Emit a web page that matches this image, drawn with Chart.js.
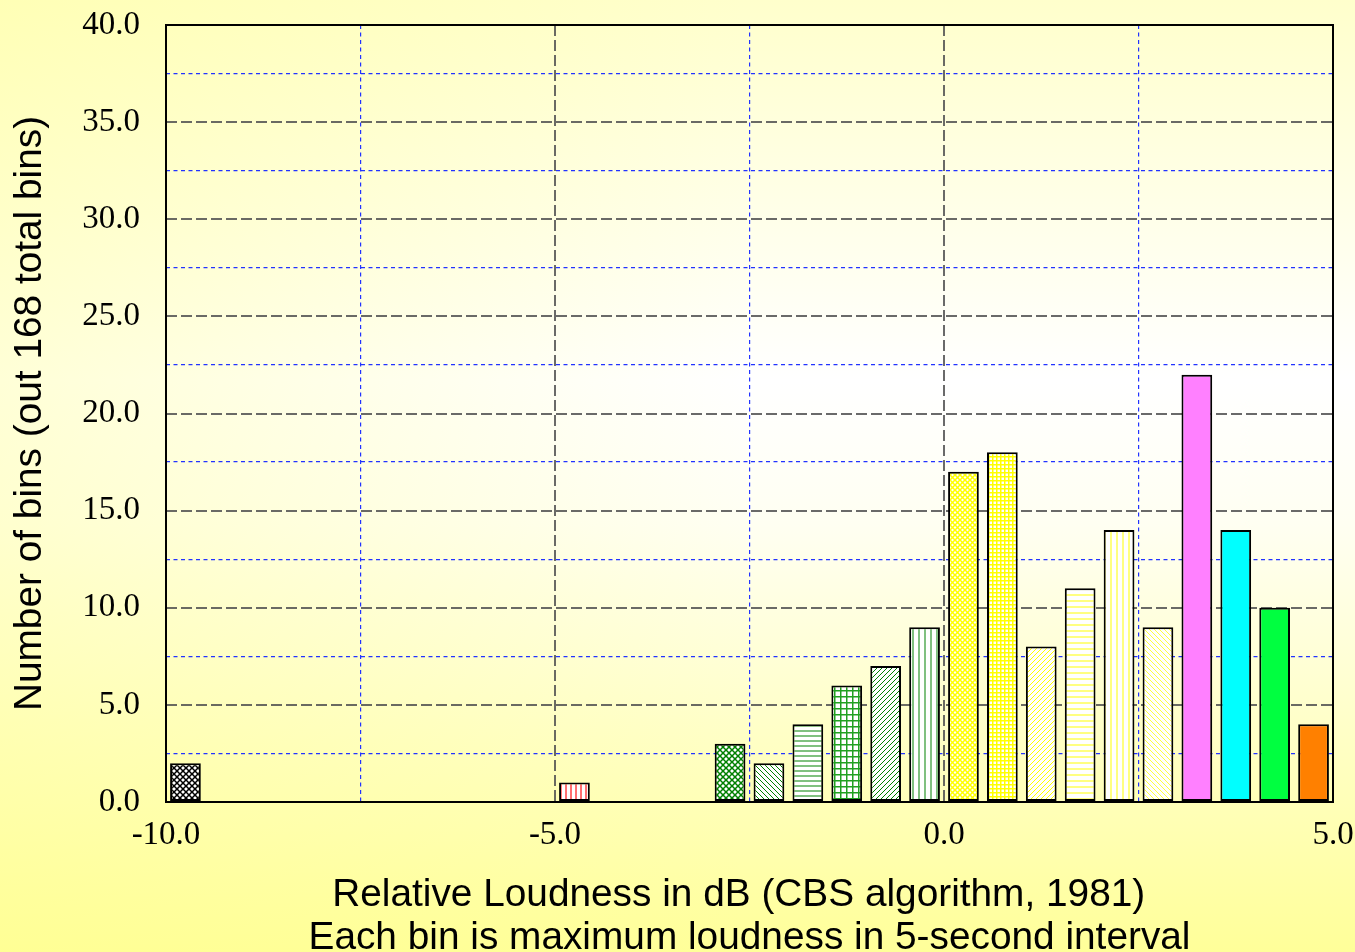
<!DOCTYPE html>
<html><head><meta charset="utf-8">
<script src="https://cdn.jsdelivr.net/npm/chart.js@4"></script>
<style>
html,body{margin:0;padding:0;overflow:hidden;width:1355px;height:952px;}
body{background:
  linear-gradient(to right, rgba(255,255,140,0.35) 0%, rgba(255,255,140,0) 55%),
  linear-gradient(to bottom, #FFFFCC 0%, #FFFFFF 40%, #FFFFF2 55%, #FFFF99 100%);}
canvas{display:block}
</style></head><body>
<canvas id="c" width="1355" height="952"></canvas>
<script>
// ---- data ----
const binCenters = [-9.75, -4.75, -2.75, -2.25, -1.75, -1.25, -0.75, -0.25, 0.25, 0.75, 1.25, 1.75, 2.25, 2.75, 3.25, 3.75, 4.25, 4.75];
const binCounts  = [2, 1, 3, 2, 4, 6, 7, 9, 17, 18, 8, 11, 14, 9, 22, 14, 10, 4];
const xRange = [-10, 5];
const yRange = [0, 40];
const yTitle = 'Number of bins (out 168 total bins)';
const xTitle = ['Relative Loudness in dB (CBS algorithm, 1981)  ', 'Each bin is maximum loudness in 5-second interval'];

// ---- styles (one per bar) ----
const barStyles = [
  ['diamond', '#000000', 6, 1.5],
  ['vert', '#FF7070', 5, 2],
  ['diamond', '#008000', 6, 1.5],
  ['back', '#008000', 5, 1],
  ['horz', '#80C080', 5, 2],
  ['grid', '#20A020', 6, 1.5],
  ['fwd', '#008000', 5, 1],
  ['vert', '#80C080', 6, 2],
  ['diamond', '#FFFF00', 5, 1.5],
  ['grid', '#FFFF00', 4, 1.5],
  ['fwd', '#FFFF00', 5, 1],
  ['horz', '#FFFF80', 6, 2],
  ['vert', '#FFFF80', 6, 2],
  ['back', '#FFFF40', 5, 1],
  ['solid', '#FF80FF'],
  ['solid', '#00FFFF'],
  ['solid', '#00FF40'],
  ['solid', '#FF8000']
];

function makeFill(st) {
  const [kind, color, size, lw] = st;
  if (kind === 'solid') return color;
  const c = document.createElement('canvas');
  c.width = c.height = size;
  const g = c.getContext('2d');
  g.fillStyle = '#FFFFFF'; g.fillRect(0, 0, size, size);
  g.fillStyle = color; g.strokeStyle = color; g.lineWidth = lw;
  const fwd = () => { g.beginPath(); for (const k of [-size, 0, size]) { g.moveTo(k, size); g.lineTo(k + size, 0); } g.stroke(); };
  const back = () => { g.beginPath(); for (const k of [-size, 0, size]) { g.moveTo(k, 0); g.lineTo(k + size, size); } g.stroke(); };
  if (kind === 'vert') g.fillRect(0, 0, lw, size);
  else if (kind === 'horz') g.fillRect(0, 0, size, lw);
  else if (kind === 'grid') { g.fillRect(0, 0, lw, size); g.fillRect(0, 0, size, lw); }
  else if (kind === 'fwd') fwd();
  else if (kind === 'back') back();
  else if (kind === 'diamond') { fwd(); back(); }
  return g.createPattern(c, 'repeat');
}
const fills = barStyles.map(makeFill);

const isMajor = v => Math.abs(v % 5) < 1e-9;
const gridColor = ctx => {
  const v = ctx.tick ? ctx.tick.value : null;
  if (v === null) return 'transparent';
  const s = ctx.scale;
  if (Math.abs(v - s.min) < 1e-9 || Math.abs(v - s.max) < 1e-9) return 'transparent';
  return isMajor(v) ? 'rgba(80,80,80,0.85)' : '#2233FF';
};
const gridWidth = ctx => (ctx.tick && isMajor(ctx.tick.value)) ? 2 : 1.2;
const gridDash = ctx => ctx.tick ? (isMajor(ctx.tick.value) ? [11, 4] : [4, 3.5]) : [];

const frame = {
  id: 'frame',
  afterDatasetsDraw(chart) {
    const {ctx, chartArea: a} = chart;
    ctx.save();
    ctx.strokeStyle = '#000'; ctx.lineWidth = 2;
    ctx.strokeRect(a.left, a.top, a.right - a.left, a.bottom - a.top);
    ctx.restore();
  }
};

const tickFont = {family: '"Liberation Serif", "Times New Roman", serif', size: 33};
const titleFont = {family: '"Liberation Sans", Arial, sans-serif', size: 38.8, lineHeight: 1.11};

new Chart(document.getElementById('c'), {
  type: 'bar',
  data: {
    datasets: [{
      data: binCenters.map((x, i) => ({x: x, y: binCounts[i]})),
      backgroundColor: fills,
      borderColor: '#000',
      borderWidth: 2,
      borderSkipped: false,
      barPercentage: 0.79,
      categoryPercentage: 1
    }]
  },
  options: {
    responsive: false,
    animation: false,
    layout: {padding: {top: 25, right: 22, left: 0, bottom: 0}},
    plugins: {legend: {display: false}, tooltip: {enabled: false}},
    scales: {
      x: {
        type: 'linear', min: xRange[0], max: xRange[1], offset: false,
        afterFit(s) { s.height = 150; s.paddingLeft = 0; s.paddingRight = 0; },
        border: {display: false, dash: gridDash},
        grid: {offset: false, drawTicks: false, color: gridColor, lineWidth: gridWidth},
        ticks: {stepSize: 2.5, autoSkip: false, maxRotation: 0, padding: 14, color: '#000', font: tickFont,
          callback: v => isMajor(v) ? Number(v).toFixed(1) : ''},
        title: {display: true, text: xTitle, color: '#000', font: titleFont, padding: {top: 0, bottom: -8}}
      },
      y: {
        min: yRange[0], max: yRange[1],
        afterFit(s) { s.width = 166; s.paddingTop = 0; s.paddingBottom = 0; },
        border: {display: false, dash: gridDash},
        grid: {drawTicks: false, color: gridColor, lineWidth: gridWidth},
        ticks: {stepSize: 2.5, autoSkip: false, padding: 26, color: '#000', font: tickFont,
          callback: v => isMajor(v) ? Number(v).toFixed(1) : ''},
        title: {display: true, text: yTitle, color: '#000', font: {family: titleFont.family, size: 38.8}, padding: {top: 7, bottom: 0}}
      }
    }
  },
  plugins: [frame]
});
</script>
</body></html>
